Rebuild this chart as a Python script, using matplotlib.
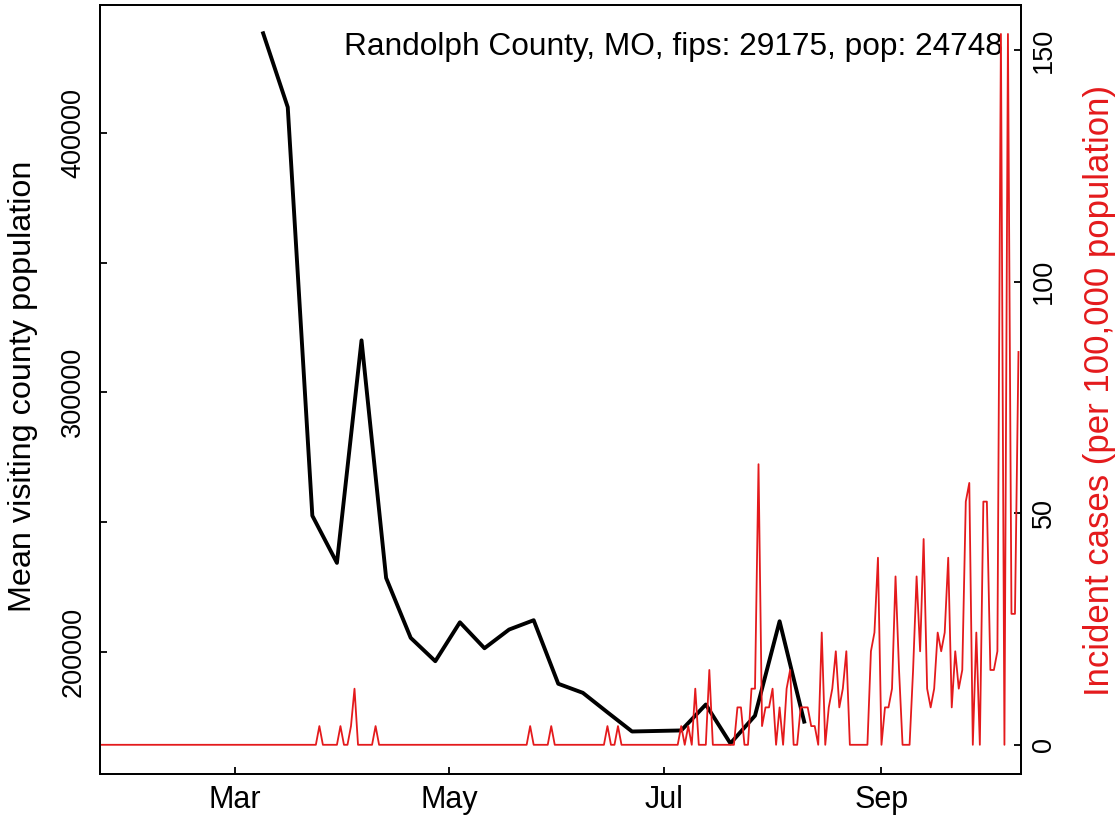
import matplotlib
matplotlib.use("Agg")
import matplotlib.pyplot as plt
import pandas as pd

plt.rcParams['font.family'] = ['Liberation Sans', 'DejaVu Sans']

RED = '#E41A1C'

# weekly mean visiting county population (left axis)
visit_dates = ['2020-03-09', '2020-03-16', '2020-03-23', '2020-03-30', '2020-04-06',
               '2020-04-13', '2020-04-20', '2020-04-27', '2020-05-04', '2020-05-11',
               '2020-05-18', '2020-05-25', '2020-06-01', '2020-06-08', '2020-06-15',
               '2020-06-22', '2020-06-29', '2020-07-06', '2020-07-13', '2020-07-20',
               '2020-07-27', '2020-08-03', '2020-08-10']
visit_pop = [438400, 409900, 252400, 234200, 320000,
             228400, 205300, 196300, 211300, 201300,
             208500, 212100, 187600, 184100, 176600,
             169200, 169400, 169600, 179600, 164600,
             175300, 211700, 173000]

# daily incident cases (non-zero days only), county population
county_pop = 24748
series_start, series_end = '2020-01-22', '2020-10-10'
case_dates = ['2020-03-25', '2020-03-31', '2020-04-03', '2020-04-04', '2020-04-10',
              '2020-05-24', '2020-05-30', '2020-06-15', '2020-06-18',
              '2020-07-06', '2020-07-08', '2020-07-10', '2020-07-14',
              '2020-07-22', '2020-07-23', '2020-07-26', '2020-07-27', '2020-07-28',
              '2020-07-29', '2020-07-30', '2020-07-31', '2020-08-01', '2020-08-03',
              '2020-08-05', '2020-08-06', '2020-08-09', '2020-08-10', '2020-08-11',
              '2020-08-12', '2020-08-13', '2020-08-15', '2020-08-17', '2020-08-18',
              '2020-08-19', '2020-08-20', '2020-08-21', '2020-08-22', '2020-08-29',
              '2020-08-30', '2020-08-31', '2020-09-02', '2020-09-03', '2020-09-04',
              '2020-09-05', '2020-09-06', '2020-09-10', '2020-09-11', '2020-09-12',
              '2020-09-13', '2020-09-14', '2020-09-15', '2020-09-16', '2020-09-17',
              '2020-09-18', '2020-09-19', '2020-09-20', '2020-09-21', '2020-09-22',
              '2020-09-23', '2020-09-24', '2020-09-25', '2020-09-26', '2020-09-28',
              '2020-09-30', '2020-10-01', '2020-10-02', '2020-10-03', '2020-10-04',
              '2020-10-05', '2020-10-07', '2020-10-08', '2020-10-09', '2020-10-10']
case_counts = [1, 1, 1, 3, 1,
               1, 1, 1, 1,
               1, 1, 3, 4,
               2, 2, 3, 3, 15,
               1, 2, 2, 3, 2,
               3, 4, 2, 2, 2,
               1, 1, 6, 2, 3,
               5, 2, 3, 5, 5,
               6, 10, 2, 2, 3,
               9, 4, 4, 9, 5,
               11, 3, 2, 3, 6,
               5, 6, 10, 2, 5,
               3, 4, 13, 14, 6,
               13, 13, 4, 4, 5,
               38, 38, 7, 7, 21]

days = pd.date_range(series_start, series_end)
cases = pd.Series(0.0, index=days)
cases[pd.to_datetime(case_dates)] = case_counts
incidence = cases * 1e5 / county_pop

month_ticks = ['2020-03-01', '2020-05-01', '2020-07-01', '2020-09-01']
month_labels = ['Mar', 'May', 'Jul', 'Sep']

fig = plt.figure(figsize=(11.19, 8.22), dpi=100)
ax = fig.add_axes([0.0894, 0.0590, 0.8228, 0.9349])
ax2 = ax.twinx()

ax.plot(pd.to_datetime(visit_dates), visit_pop, color='black', lw=2.8)
ax2.plot(incidence.index, incidence.values, color=RED, lw=1.3)

ax.set_xlim(pd.Timestamp('2020-01-22 13:40'), pd.Timestamp('2020-10-10 15:30'))
ax.set_ylim(153000, 449300)
ax2.set_ylim(-6.2, 159.8)

ax.set_xticks(pd.to_datetime(month_ticks))
ax.set_xticklabels(month_labels)
ax.set_yticks([200000, 250000, 300000, 350000, 400000])
ax.set_yticklabels(['200000', '', '300000', '', '400000'], rotation=90, va='center')
ax2.set_yticks([0, 50, 100, 150])
ax2.set_yticklabels(['0', '50', '100', '150'], rotation=90, va='center')

for a in (ax, ax2):
    for s in a.spines.values():
        s.set_linewidth(1.3)
ax.tick_params(axis='x', direction='in', length=5, width=1.3, labelsize=22, pad=8)
ax.tick_params(axis='y', direction='in', length=5, width=1.3, labelsize=19.5, pad=10)
ax2.tick_params(axis='y', direction='in', length=5, width=1.3, labelsize=19.5, pad=7.5)

fig.text(23 / 1119, 1 - 386 / 822, 'Mean visiting county population', rotation=90,
         ha='center', va='center', fontsize=23.3)
fig.text(1100 / 1119, 1 - 391 / 822, 'Incident cases (per 100,000 population)', rotation=90,
         ha='center', va='center', fontsize=25, color=RED)
ax.text(1003 / 1119, 1 - 55 / 822, 'Randolph County, MO, fips: 29175, pop: 24748',
        transform=fig.transFigure, ha='right', va='baseline', fontsize=22.8)

fig.savefig('out.png', dpi=100)
